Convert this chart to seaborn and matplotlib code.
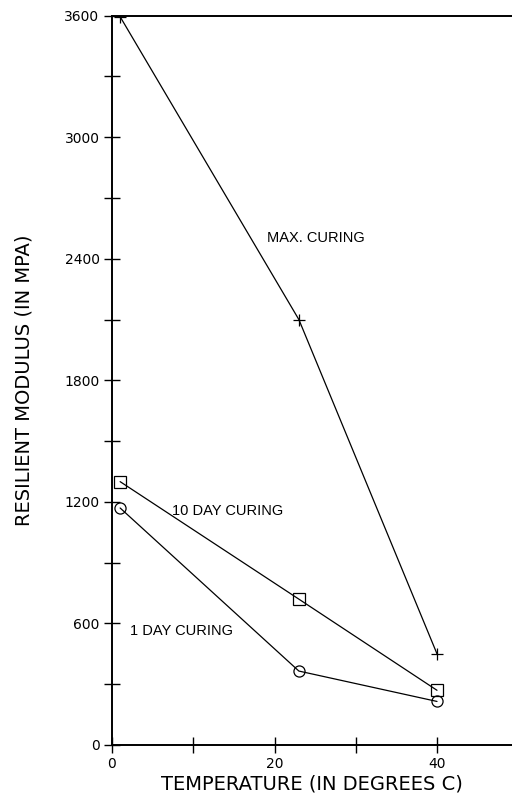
import matplotlib
matplotlib.use("Agg")
import matplotlib.pyplot as plt
import seaborn as sns
import pandas as pd

# Resilient modulus (MPa) versus test temperature for three curing conditions
temperature = [1, 23, 40]
max_curing = [3595, 2100, 450]
ten_day_curing = [1300, 720, 270]
one_day_curing = [1170, 365, 215]

series_names = ["MAX. CURING", "10 DAY CURING", "1 DAY CURING"]
series_values = [max_curing, ten_day_curing, one_day_curing]
series_markers = ["+", "s", "o"]
label_positions = [(19.1, 2484), (7.4, 1136), (2.2, 543)]

x_ticks = [0, 10, 20, 30, 40]
x_tick_labels = ["0", "", "20", "", "40"]
y_ticks = list(range(0, 3601, 300))
y_tick_labels = [str(v) if v % 600 == 0 else "" for v in y_ticks]

sns.set_style("ticks")
plt.rcParams["font.family"] = ["DejaVu Sans"]

fig = plt.figure(figsize=(5.12, 7.97), dpi=100)
ax_width_px = 50 * 8.125
ax = fig.add_axes([112 / 512, 52 / 797, ax_width_px / 512, 729.3 / 797])

for name, values, marker in zip(series_names, series_values, series_markers):
    df = pd.DataFrame({"temperature": temperature, "modulus": values})
    sns.lineplot(
        data=df, x="temperature", y="modulus", ax=ax, color="black",
        linewidth=0.9, marker=marker, markersize=8 if marker != "+" else 9,
        markerfacecolor="none", markeredgecolor="black", markeredgewidth=0.9,
        sort=False, errorbar=None,
    )

for name, (tx, ty) in zip(series_names, label_positions):
    ax.text(tx, ty, name, fontsize=10.5, family=["Liberation Sans", "DejaVu Sans"],
            ha="left", va="baseline", color="black")

ax.set_xlim(0, 50)
ax.set_ylim(0, 3600)
ax.set_xticks(x_ticks)
ax.set_xticklabels(x_tick_labels)
ax.set_yticks(y_ticks)
ax.set_yticklabels(y_tick_labels)
ax.tick_params(axis="both", direction="inout", length=12, width=1.0,
               labelsize=10, colors="black")
ax.tick_params(axis="y", pad=3)
ax.tick_params(axis="x", pad=3)

for side in ["left", "bottom", "top"]:
    ax.spines[side].set_visible(True)
    ax.spines[side].set_linewidth(1.4)
    ax.spines[side].set_color("black")
ax.spines["right"].set_visible(False)

ax.set_xlabel("TEMPERATURE (IN DEGREES C)", fontsize=14, color="black")
ax.set_ylabel("RESILIENT MODULUS (IN MPA)", fontsize=14, color="black")
ax.xaxis.set_label_coords((312 - 112) / ax_width_px, -30 / 729.3)
ax.yaxis.set_label_coords(-(112 - 34) / ax_width_px, 0.5)

fig.savefig("out.png", dpi=100)
